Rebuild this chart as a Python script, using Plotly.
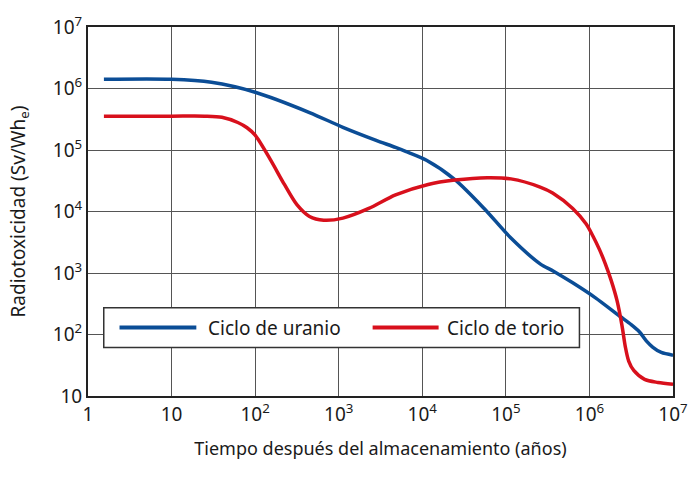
import plotly.graph_objects as go

# Data (years, Sv/Whe)
uranio_t = [1.55, 10, 30, 100, 447, 1122, 2754, 4786, 6310, 11220, 24550, 54950,
            1.15e5, 2.57e5, 3.72e5, 6.31e5, 1.17e6, 2.29e6, 3.16e6, 3.98e6, 4.79e6,
            5.75e6, 7.24e6, 1e7]
uranio_v = [1.41e6, 1.41e6, 1.26e6, 8.7e5, 4.07e5, 2.34e5, 1.45e5, 1.1e5, 9.5e4, 6.8e4,
            3.3e4, 1.12e4, 3.7e3, 1.41e3, 1.07e3, 692, 398, 200, 145, 110, 79, 62, 51, 46]

torio_t = [1.55, 10, 25, 40, 62, 80, 100, 151, 224, 316, 447, 661, 1122, 2291, 4786, 11750,
           24550, 60000, 1.15e5, 2.57e5, 3.63e5, 6.31e5, 9.1e5, 1.1e6, 1.32e6, 1.55e6,
           1.82e6, 2.14e6, 2.45e6, 2.69e6, 2.95e6, 3.39e6, 4.57e6, 6.6e6, 1e7]
torio_v = [3.55e5, 3.55e5, 3.55e5, 3.4e5, 2.8e5, 2.3e5, 1.74e5, 7.1e4, 2.75e4, 1.29e4,
           8.3e3, 7.2e3, 7.8e3, 1.12e4, 1.86e4, 2.75e4, 3.24e4, 3.55e4, 3.39e4, 2.5e4,
           2.0e4, 1.12e4, 6.3e3, 4.0e3, 2.4e3, 1.41e3, 759, 355, 141, 63, 37, 26, 18.6,
           16.6, 15.5]

x_tickvals = [1, 10, 100, 1e3, 1e4, 1e5, 1e6, 1e7]
x_ticktext = ["1", "10", "10<sup>2</sup>", "10<sup>3</sup>", "10<sup>4</sup>",
              "10<sup>5</sup>", "10<sup>6</sup>", "10<sup>7</sup>"]
y_tickvals = [10, 100, 1e3, 1e4, 1e5, 1e6, 1e7]
y_ticktext = ["10", "10<sup>2</sup>", "10<sup>3</sup>", "10<sup>4</sup>",
              "10<sup>5</sup>", "10<sup>6</sup>", "10<sup>7</sup>"]

series_names = ["Ciclo de uranio", "Ciclo de torio"]
BLUE = "#0b4d96"
RED = "#d8101c"
FONT = "Noto Sans"
TXT = "#1a1a1a"

fig = go.Figure()
fig.add_trace(go.Scatter(x=uranio_t, y=uranio_v, mode="lines", name=series_names[0],
                         line=dict(color=BLUE, width=3.5, shape="spline", smoothing=0.8),
                         showlegend=False))
fig.add_trace(go.Scatter(x=torio_t, y=torio_v, mode="lines", name=series_names[1],
                         line=dict(color=RED, width=3.5, shape="spline", smoothing=0.8),
                         showlegend=False))

axis_common = dict(type="log", showgrid=True, gridcolor="#555555", gridwidth=1,
                   showline=True, linecolor="#222222", linewidth=2, mirror=True,
                   ticks="", zeroline=False,
                   tickfont=dict(family=FONT, size=19, color=TXT))

fig.update_xaxes(**axis_common, range=[0, 7], tickvals=x_tickvals, ticktext=x_ticktext,
                 title=dict(text="Tiempo después del almacenamiento (años)",
                            font=dict(family=FONT, size=18, color=TXT), standoff=17))
fig.update_yaxes(**axis_common, range=[1, 7], tickvals=y_tickvals, ticktext=y_ticktext,
                 title=dict(text="Radiotoxicidad (Sv/Wh<sub>e</sub>)",
                            font=dict(family=FONT, size=19, color=TXT), standoff=22))

# Manual legend box (paper coordinates)
def px_x(p):
    return (p - 88) / 594.0

def px_y(p):
    return (396 - p) / 372.0

shapes = [
    dict(type="rect", xref="paper", yref="paper", x0=px_x(104), x1=px_x(587),
         y0=px_y(347), y1=px_y(307), fillcolor="white",
         line=dict(color="#333333", width=1.5), layer="above"),
    dict(type="line", xref="paper", yref="paper", x0=px_x(120), x1=px_x(198),
         y0=px_y(327), y1=px_y(327), line=dict(color=BLUE, width=4), layer="above"),
    dict(type="line", xref="paper", yref="paper", x0=px_x(377), x1=px_x(444),
         y0=px_y(327), y1=px_y(327), line=dict(color=RED, width=4), layer="above"),
]
annotations = [
    dict(text=series_names[0], xref="paper", yref="paper", x=px_x(208), y=px_y(327),
         xanchor="left", yanchor="middle", showarrow=False,
         font=dict(family=FONT, size=19, color=TXT)),
    dict(text=series_names[1], xref="paper", yref="paper", x=px_x(450), y=px_y(327),
         xanchor="left", yanchor="middle", showarrow=False,
         font=dict(family=FONT, size=19, color=TXT)),
]

fig.update_layout(width=700, height=479, margin=dict(l=88, r=18, t=24, b=83),
                  paper_bgcolor="white", plot_bgcolor="white",
                  shapes=shapes, annotations=annotations, showlegend=False)

fig.write_html("out.html")
